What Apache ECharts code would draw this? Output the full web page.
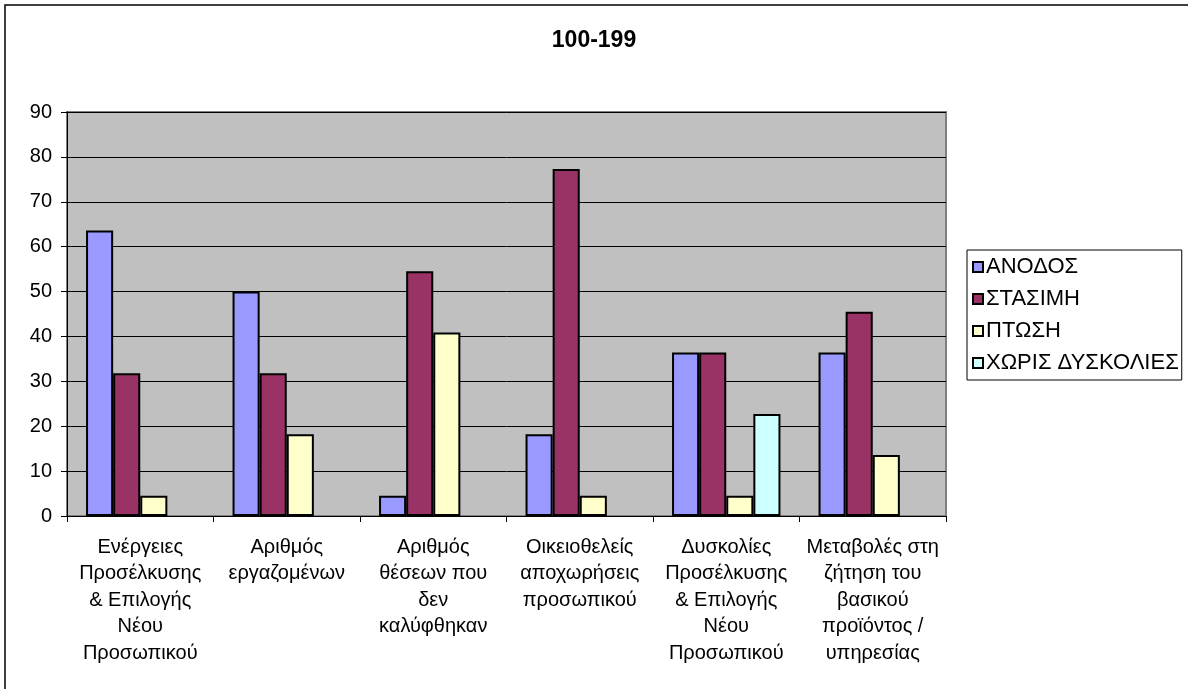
<!DOCTYPE html>
<html>
<head>
<meta charset="utf-8">
<script src="https://cdn.jsdelivr.net/npm/echarts@6/dist/echarts.min.js"></script>
<style>html,body{margin:0;padding:0;background:#fff}#c{width:1188px;height:689px}</style>
</head>
<body>
<div id="c"></div>
<script>
const categories = [
  "Ενέργειες\nΠροσέλκυσης\n& Επιλογής\nΝέου\nΠροσωπικού",
  "Αριθμός\nεργαζομένων",
  "Αριθμός\nθέσεων που\nδεν\nκαλύφθηκαν",
  "Οικειοθελείς\nαποχωρήσεις\nπροσωπικού",
  "Δυσκολίες\nΠροσέλκυσης\n& Επιλογής\nΝέου\nΠροσωπικού",
  "Μεταβολές στη\nζήτηση του\nβασικού\nπροϊόντος /\nυπηρεσίας"
];
const anodos  = [63.6, 50.0, 4.5, 18.2, 36.4, 36.4];
const stasimi = [31.8, 31.8, 54.5, 77.3, 36.4, 45.5];
const ptosi   = [4.5, 18.2, 40.9, 4.5, 4.5, 13.6];
const xoris   = [null, null, null, null, 22.7, null];
const seriesNames = ["ΑΝΟΔΟΣ", "ΣΤΑΣΙΜΗ", "ΠΤΩΣΗ", "ΧΩΡΙΣ ΔΥΣΚΟΛΙΕΣ"];
const yTicks = { min: 0, max: 90, interval: 10 };

const chart = echarts.init(document.getElementById('c'), null, { renderer: 'canvas' });
const font = "'Liberation Sans', Arial, sans-serif";
const colors = ['#9999FF', '#993366', '#FFFFCC', '#CCFFFF'];
const datas = [anodos, stasimi, ptosi, xoris];

chart.setOption({
  animation: false,
  backgroundColor: '#fff',
  textStyle: { fontFamily: font },
  title: {
    text: '100-199',
    left: 'center',
    top: 24,
    textStyle: { fontFamily: font, fontSize: 23, fontWeight: 'bold', color: '#000' }
  },
  graphic: [
    { type: 'rect', shape: { x: 5, y: 5, width: 1250, height: 750 }, style: { fill: 'none', stroke: '#000', lineWidth: 1.5 }, silent: true, z: -1 }
  ],
  legend: {
    orient: 'vertical',
    left: 967,
    top: 250,
    padding: [5, 3, 5, 5],
    itemGap: 8,
    itemWidth: 10,
    itemHeight: 10,
    icon: 'rect',
    borderColor: '#000',
    borderWidth: 1,
    backgroundColor: '#fff',
    textStyle: { fontFamily: font, fontSize: 22, lineHeight: 24, color: '#000', padding: [0, 0, 0, -2] },
    data: seriesNames
  },
  grid: {
    left: 67, top: 112, right: 242, bottom: 173,
    show: true, backgroundColor: '#C0C0C0', borderColor: '#808080', borderWidth: 2
  },
  xAxis: {
    type: 'category',
    data: categories,
    axisLine: { show: true, lineStyle: { color: '#000', width: 1 } },
    axisTick: { show: true, length: 6, lineStyle: { color: '#000' } },
    axisLabel: { fontFamily: font, fontSize: 20, color: '#000', lineHeight: 26.5, margin: 18, interval: 0 },
    splitLine: { show: false }
  },
  yAxis: {
    type: 'value',
    min: yTicks.min, max: yTicks.max, interval: yTicks.interval,
    axisLine: { show: true, lineStyle: { color: '#000', width: 1 } },
    axisTick: { show: true, length: 6, lineStyle: { color: '#000' } },
    axisLabel: { fontFamily: font, fontSize: 20, color: '#000', margin: 15 },
    splitLine: { show: true, lineStyle: { color: '#000', width: 1 } }
  },
  series: seriesNames.map((n, i) => ({
    name: n,
    type: 'bar',
    data: datas[i],
    barGap: '0%',
    barCategoryGap: '26%',
    itemStyle: { color: colors[i], borderColor: '#000', borderWidth: 2 }
  }))
});
</script>
</body>
</html>
